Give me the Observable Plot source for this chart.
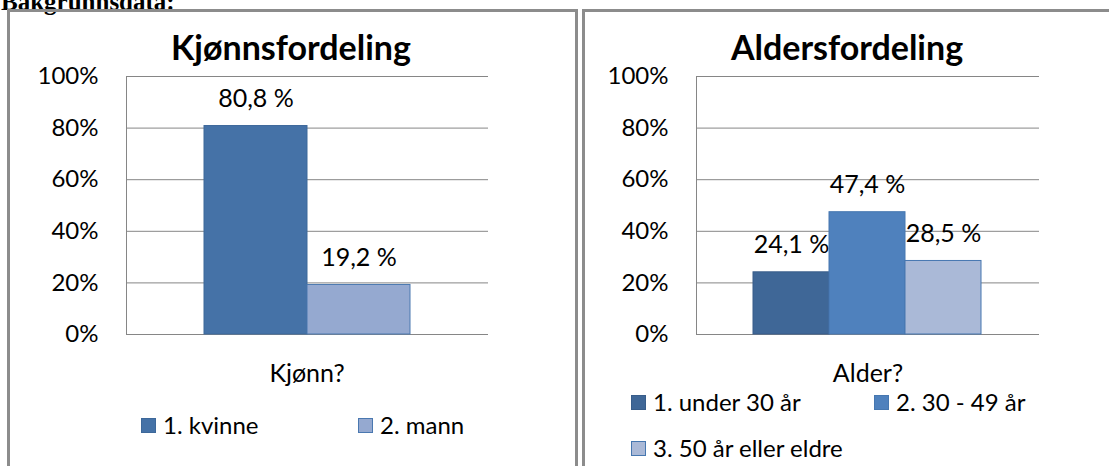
<!DOCTYPE html>
<html>
<head>
<meta charset="utf-8">
<script src="https://cdn.jsdelivr.net/npm/d3@7"></script>
<script src="https://cdn.jsdelivr.net/npm/@observablehq/plot@0.6"></script>
<style>
  html, body { margin: 0; padding: 0; background: #fff; }
  #page { position: relative; width: 1109px; height: 466px; overflow: hidden; font-family: Lato, sans-serif; color: #000; background: #fff; }
  .panel { position: absolute; border: 3px solid #8c8c8c; border-bottom: none; box-sizing: border-box; }
  .abs { position: absolute; }
  .title { position: absolute; font-weight: bold; font-size: 34px; line-height: 1; white-space: nowrap; transform: translate(-50%, -50%); }
  .cat { position: absolute; font-size: 25px; line-height: 1; white-space: nowrap; transform: translate(-50%, -50%); }
  .heading { position: absolute; left: 1px; top: -11px; font-family: "Liberation Serif", serif; font-weight: bold; font-size: 25px; line-height: 25px; white-space: nowrap; }
  .legend { position: absolute; display: grid; grid-auto-rows: 46px; }
  .item { display: flex; align-items: center; font-size: 24px; line-height: 1; white-space: nowrap; }
  .sw { width: 13px; height: 13px; border: 1px solid; margin-right: 7px; flex: none; }
</style>
</head>
<body>
<div id="page"></div>
<script>
// ---------- data ----------
const pageHeading = "Bakgrunnsdata:";
const yTicks = [0, 20, 40, 60, 80, 100];

const genderTitle = "Kjønnsfordeling";
const genderCategory = "Kjønn?";
const genderSeries = ["1. kvinne", "2. mann"];
const genderValues = [80.8, 19.2];

const ageTitle = "Aldersfordeling";
const ageCategory = "Alder?";
const ageSeries = ["1. under 30 år", "2. 30 - 49 år", "3. 50 år eller eldre"];
const ageValues = [24.1, 47.4, 28.5];

// ---------- styles ----------
const genderFills = ["#4572A7", "#95A9D0"];
const genderStrokes = ["#3D689A", "#4A78B0"];
const ageFills = ["#3F6797", "#4F81BD", "#AAB9D7"];
const ageStrokes = ["#385D8A", "#4677B0", "#4677B0"];

const fmt = v => v.toFixed(1).replace(".", ",") + " %";

const page = d3.select("#page");

page.append("div").attr("class", "heading").text(pageHeading);
page.append("div").attr("class", "panel").style("left", "7px").style("top", "9px").style("width", "571px").style("height", "480px");
page.append("div").attr("class", "panel").style("left", "582px").style("top", "9px").style("width", "560px").style("height", "480px");

function makeChart({series, values, fills, strokes, width, height, margins, xRange}) {
  const data = series.map((s, i) => ({name: s, value: values[i], fill: fills[i], stroke: strokes[i]}));
  return Plot.plot({
    width, height, ...margins,
    style: {background: "transparent", fontFamily: "Lato, sans-serif", fontSize: "24px", color: "#000", overflow: "visible"},
    x: {type: "band", domain: series, range: xRange, padding: 0, axis: null},
    y: {domain: [0, 100], label: null, axis: null},
    color: {type: "identity"},
    marks: [
      Plot.gridY(yTicks, {stroke: "#868686", strokeOpacity: 1, strokeWidth: 1}),
      Plot.frame({anchor: "left", stroke: "#868686", strokeOpacity: 1}),
      Plot.barY(data, {x: "name", y: "value", fill: "fill", stroke: "stroke", strokeWidth: 1}),
      Plot.text(data, {x: "name", y: "value", text: d => fmt(d.value), dy: -27, fontSize: 25, fill: "#000"}),
      Plot.axisY(yTicks, {tickSize: 0, tickPadding: 28, tickFormat: d => d + "%", fontSize: 24, fill: "#000", label: null})
    ]
  });
}

function addChart({left, width, title, titleX, category, catX, series, values, fills, strokes, margins, xRange, legendLeft, legendTop, legendCols}) {
  const holder = page.append("div").attr("class", "abs").style("left", left + "px").style("top", "0px");
  const svg = makeChart({series, values, fills, strokes, width, height: 466, margins, xRange});
  holder.node().appendChild(svg);
  page.append("div").attr("class", "title").style("left", titleX + "px").style("top", "47px").text(title);
  page.append("div").attr("class", "cat").style("left", catX + "px").style("top", "372px").text(category);
  const lg = page.append("div").attr("class", "legend")
    .style("left", legendLeft + "px").style("top", legendTop + "px")
    .style("grid-template-columns", legendCols);
  series.forEach((s, i) => {
    const it = lg.append("div").attr("class", "item");
    it.append("div").attr("class", "sw").style("background", fills[i]).style("border-color", strokes[i]);
    it.append("span").text(s);
  });
}

addChart({
  left: 0, width: 577, title: genderTitle, titleX: 291, category: genderCategory, catX: 307,
  series: genderSeries, values: genderValues, fills: genderFills, strokes: genderStrokes,
  margins: {marginLeft: 126, marginRight: 89, marginTop: 76, marginBottom: 132},
  xRange: [204, 410],
  legendLeft: 141, legendTop: 402, legendCols: "217px 217px"
});

addChart({
  left: 584, width: 525, title: ageTitle, titleX: 847, category: ageCategory, catX: 868,
  series: ageSeries, values: ageValues, fills: ageFills, strokes: ageStrokes,
  margins: {marginLeft: 112, marginRight: 70, marginTop: 76, marginBottom: 132},
  xRange: [168, 398],
  legendLeft: 631, legendTop: 379, legendCols: "243px 243px"
});
</script>
</body>
</html>
